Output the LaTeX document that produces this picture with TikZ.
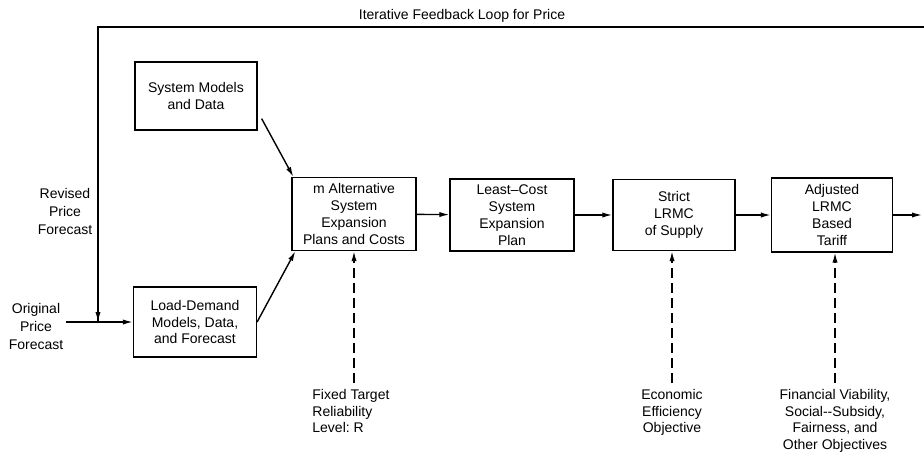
\documentclass[tikz,border=0pt]{standalone}
\usepackage{fontspec}
\setmainfont{Liberation Sans}
\usetikzlibrary{arrows.meta,positioning,calc}

\begin{document}
\begin{tikzpicture}[x=0.5pt, y=-0.5pt,
        box/.style={draw, line width=0.6pt, align=center, font=\fontsize{7}{8.4}\selectfont, inner sep=1pt},
        lbl/.style={align=center, font=\fontsize{7}{9}\selectfont, inner sep=0pt},
        objlbl/.style={lbl, font=\fontsize{7}{8.3}\selectfont},
        flow/.style={line width=0.7pt, -{Latex[length=5pt,width=2.6pt]}},
        dashflow/.style={flow, dash pattern=on 5pt off 2.5pt}]

        \useasboundingbox (0,0) rectangle (924,455);

        % boxes
        \node[box, minimum width=61pt, minimum height=34pt] (sysmod) at (196,96) {System Models\\and Data};
        \node[box, minimum width=61.5pt, minimum height=35pt] (load) at (195,322) {Load-Demand\\Models, Data,\\and Forecast};
        \node[box, minimum width=62pt, minimum height=36.5pt] (alt) at (354,214) {m Alternative\\System\\Expansion\\Plans and Costs};
        \node[box, minimum width=62pt, minimum height=36pt] (least) at (512,215) {Least--Cost\\System\\Expansion\\Plan};
        \node[box, minimum width=61pt, minimum height=35.5pt] (strict) at (674,215) {Strict\\LRMC\\of Supply};
        \node[box, minimum width=60.5pt, minimum height=37pt] (adj) at (832,215) {Adjusted\\LRMC\\Based\\Tariff};

        % texts
        \node[lbl] (loop) at (462,16) {Iterative Feedback Loop for Price};
        \node[lbl] (revised) at (65,211) {Revised\\Price\\Forecast};
        \node[lbl] (orig) at (36,326) {Original\\Price\\Forecast};
        \node[objlbl, align=left, anchor=north west] (fixed) at (312,389) {Fixed Target\\Reliability\\ Level:\ R};
        \node[objlbl, anchor=north] (econ) at (672,389) {Economic\\Efficiency\\Objective};
        \node[objlbl, anchor=north] (fin) at (835,389) {Financial Viability,\\Social-{}-Subsidy,\\Fairness, and\\Other Objectives};

        \coordinate (fbR) at (924,27);
        \coordinate (fbL) at (98,27);
        \coordinate (join) at (98,322);
        \coordinate (start) at (66,322);
        \coordinate (out) at (922,215);

        % connectors
        \draw[line width=0.7pt] (fbR) -- (fbL) -- (join);
        \draw[flow] (fbL) -- (join);
        \draw[flow] (start) -- (load.west);
        \draw[flow] ([xshift=2pt, yshift=6pt]sysmod.south east) -- ([xshift=1pt]alt.north west);
        \draw[flow] (load.east) -- ([xshift=2pt]alt.south west);
        \draw[flow] (alt) -- (least);
        \draw[flow] (least) -- (strict);
        \draw[flow] (strict) -- (adj);
        \draw[flow] (adj.east) -- (out);
        \draw[dashflow] ([yshift=3pt]fixed.north -| alt.south) -- (alt.south);
        \draw[dashflow] ([yshift=3pt]econ.north) -- (econ.north |- strict.south);
        \draw[dashflow] ([yshift=3pt]fin.north) -- (fin.north |- adj.south);
\end{tikzpicture}
\end{document}
